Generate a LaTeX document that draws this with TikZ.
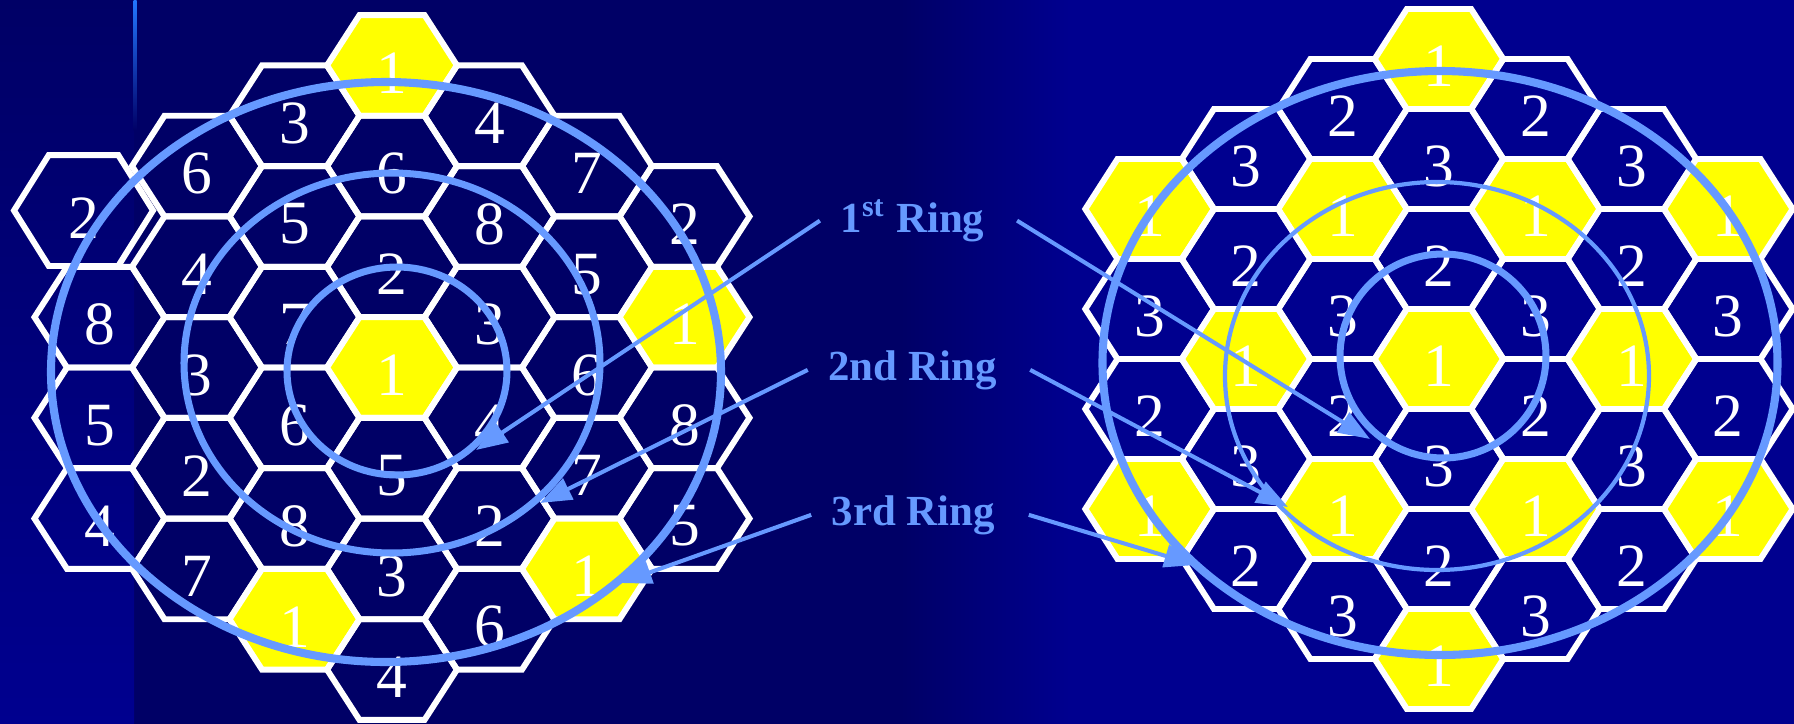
\documentclass[tikz,border=0pt]{standalone}
\usepackage{fontspec}
\setmainfont{Liberation Serif}
\usepackage{tikz}
\usetikzlibrary{arrows.meta}
\definecolor{slide}{HTML}{000066}
\definecolor{slidelight}{HTML}{00008F}
\definecolor{ringblue}{HTML}{6699FF}
\definecolor{cellyellow}{HTML}{FFFF00}
\definecolor{stripline}{HTML}{2277FF}

\newcommand{\leftcells}{-3/-1/8, -3/1/5, -3/3/4,
  -2/-4/6, -2/-2/4, -2/0/3, -2/2/2, -2/4/7,
  -1/-5/3, -1/-3/5, -1/-1/7, -1/1/6, -1/3/8, -1/5/1,
  0/-6/1, 0/-4/6, 0/-2/2, 0/0/1, 0/2/5, 0/4/3, 0/6/4,
  1/-5/4, 1/-3/8, 1/-1/3, 1/1/4, 1/3/2, 1/5/6,
  2/-4/7, 2/-2/5, 2/0/6, 2/2/7, 2/4/1,
  3/-3/2, 3/-1/1, 3/1/8, 3/3/5}
\newcommand{\rightcells}{-3/-3/1, -3/-1/3, -3/1/2, -3/3/1,
  -2/-4/3, -2/-2/2, -2/0/1, -2/2/3, -2/4/2,
  -1/-5/2, -1/-3/1, -1/-1/3, -1/1/2, -1/3/1, -1/5/3,
  0/-6/1, 0/-4/3, 0/-2/2, 0/0/1, 0/2/3, 0/4/2, 0/6/1,
  1/-5/2, 1/-3/1, 1/-1/3, 1/1/2, 1/3/1, 1/5/3,
  2/-4/3, 2/-2/2, 2/0/1, 2/2/3, 2/4/2,
  3/-3/1, 3/-1/3, 3/1/2, 3/3/1}

\begin{document}
\begin{tikzpicture}[
    cell/.style={draw=white, line width=1.7pt, line join=miter},
    num/.style={text=white, font=\fontsize{17.5}{20}\selectfont,
                inner sep=0pt, yshift=-0.075cm},
    ringtxt/.style={text=ringblue, font=\fontsize{12.2}{14}\selectfont\bfseries,
                    inner xsep=0.2cm, inner ysep=0pt, anchor=base},
    ringline/.style={draw=ringblue, line width=2pt},
    ptr/.style={-{Triangle[length=9pt, width=6.5pt]}, line width=1.15pt, color=ringblue},
]
    \useasboundingbox (0,0) rectangle (17.94,-7.24);

    % slide background
    \fill[slide] (0,0) rectangle (17.94,-7.24);
    \shade[left color=slide, right color=slidelight] (9.0,0) rectangle (10.7,-7.24);
    \fill[slidelight] (10.7,0) rectangle (17.94,-7.24);
    \shade[top color=slide, bottom color=slidelight] (0,0) rectangle (1.34,-7.24);
    \shade[top color=stripline, bottom color=slide] (1.335,0) rectangle (1.365,-1.3);

    % left cluster, reuse 7 and 8
    \begin{scope}[shift={(3.92,-3.675)}, x=0.65cm, y=0.5035cm]
        \foreach \c/\k/\n in \leftcells {
            \ifnum\n=1 \def\cellfill{cellyellow}\else\def\cellfill{none}\fi
            \draw[cell, fill=\cellfill] ({1.5*\c+1},{-\k}) -- ++(-0.5,1) -- ++(-1,0)
                -- ++(-0.5,-1) -- ++(0.5,-1) -- ++(1,0) -- cycle;
            \node[num] (L\c r\k) at ({1.5*\c},{-\k}) {\n};
        }
        \draw[cell, shift={(-4.746,3.118)}, xscale=1.069, yscale=1.102]
            (1,0) -- ++(-0.5,1) -- ++(-1,0) -- ++(-0.5,-1) -- ++(0.5,-1) -- ++(1,0) -- cycle;
        \node[num] (Lcorner) at (-4.746,3.118) {2};
    \end{scope}

    % right cluster, reuse 3
    \begin{scope}[shift={(14.39,-3.59)}, x=0.643cm, y=0.5cm]
        \foreach \c/\k/\n in \rightcells {
            \ifnum\n=1 \def\cellfill{cellyellow}\else\def\cellfill{none}\fi
            \draw[cell, fill=\cellfill] ({1.5*\c+1},{-\k}) -- ++(-0.5,1) -- ++(-1,0)
                -- ++(-0.5,-1) -- ++(0.5,-1) -- ++(1,0) -- cycle;
            \node[num] (R\c r\k) at ({1.5*\c},{-\k}) {\n};
        }
    \end{scope}

    % rings
    \draw[ringline] (3.97,-3.71) ellipse [x radius=1.10cm, y radius=1.04cm];
    \draw[ringline] (3.92,-3.63) ellipse [x radius=2.08cm, y radius=1.90cm];
    \draw[ringline, line width=2.3pt] (3.86,-3.72) ellipse [x radius=3.35cm, y radius=2.90cm];
    \draw[ringline] (14.43,-3.56) ellipse [x radius=1.03cm, y radius=1.02cm];
    \draw[ringline, line width=1.2pt] (14.37,-3.76) ellipse [x radius=2.12cm, y radius=1.94cm];
    \draw[ringline, line width=2.3pt] (14.40,-3.63) ellipse [x radius=3.375cm, y radius=2.92cm];

    \node[ringtxt] (ring1) at (9.125,-2.32) {1\textsuperscript{st} Ring};
    \node[ringtxt] (ring2) at (9.125,-3.80) {2nd Ring};
    \node[ringtxt] (ring3) at (9.135,-5.25) {3rd Ring};

    \coordinate (tip1L) at (4.76,-4.50);
    \coordinate (tip2L) at (5.40,-5.03);
    \coordinate (tip3L) at (6.20,-5.83);
    \coordinate (tip1R) at (13.70,-4.39);
    \coordinate (tip2R) at (12.88,-5.07);
    \coordinate (tip3R) at (11.96,-5.65);

    \draw[ptr] (ring1.west) -- (tip1L);
    \draw[ptr] (ring2.west) -- (tip2L);
    \draw[ptr] (ring3.west) -- (tip3L);
    \draw[ptr] ([xshift=0.12cm]ring1.east) -- (tip1R);
    \draw[ptr] ([xshift=0.13cm]ring2.east) -- (tip2R);
    \draw[ptr] ([xshift=0.13cm]ring3.east) -- (tip3R);
\end{tikzpicture}
\end{document}
